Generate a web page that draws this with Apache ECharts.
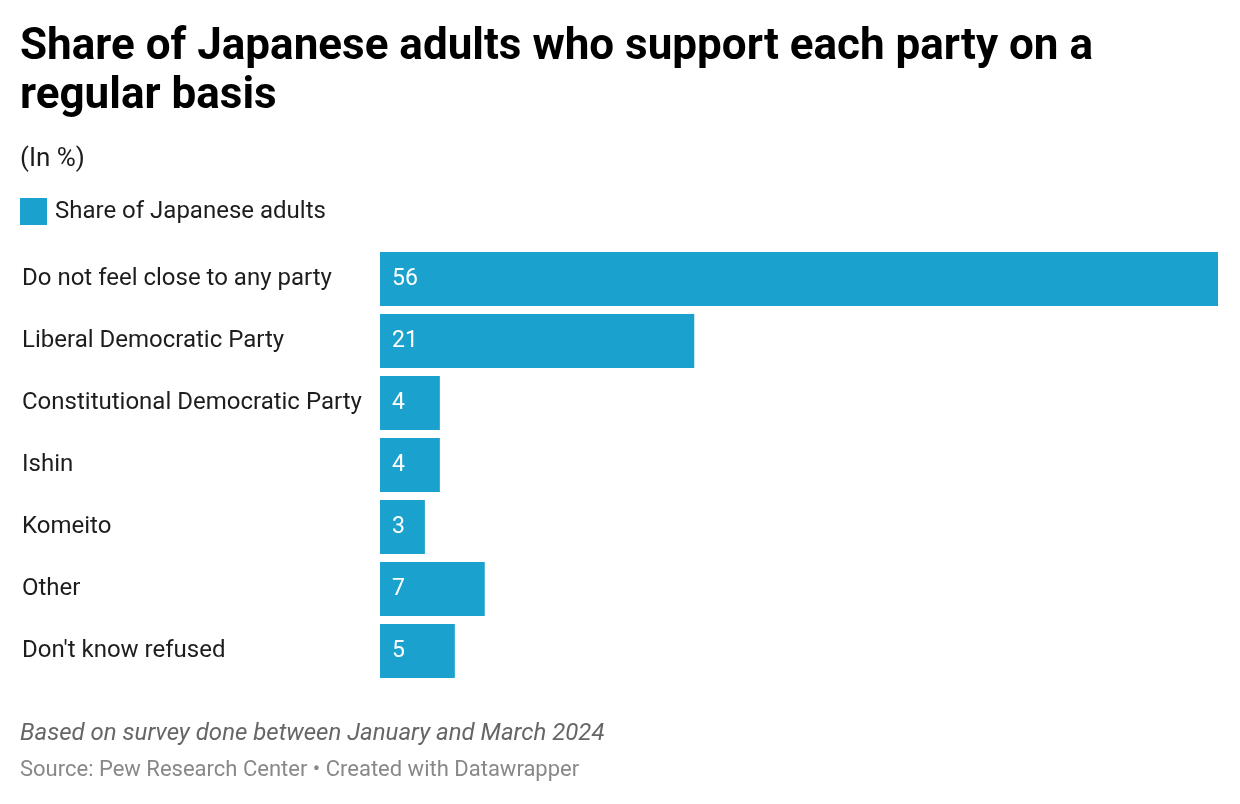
<!DOCTYPE html>
<html>
<head>
<meta charset="utf-8">
<script src="https://cdn.jsdelivr.net/npm/echarts@6/dist/echarts.min.js"></script>
<style>
  html, body { margin: 0; padding: 0; background: #fff; }
  #chart { width: 1240px; height: 804px; }
</style>
</head>
<body>
<div id="chart"></div>
<script>
const categories = [
  "Do not feel close to any party",
  "Liberal Democratic Party",
  "Constitutional Democratic Party",
  "Ishin",
  "Komeito",
  "Other",
  "Don't know refused"
];
const shareValues = [56, 21, 4, 4, 3, 7, 5];
const seriesName = "Share of Japanese adults";

const FONT = "Roboto, 'Noto Sans', sans-serif";
const chart = echarts.init(document.getElementById('chart'), null, { renderer: 'canvas' });

chart.setOption({
  backgroundColor: '#ffffff',
  animation: false,
  textStyle: { fontFamily: FONT },
  title: [
    {
      text: 'Share of Japanese adults who support each party on a\nregular basis',
      left: 20, top: 23, padding: 0,
      textStyle: { fontFamily: FONT, fontSize: 44, fontWeight: 'bold', color: '#000000', lineHeight: 49 }
    },
    {
      text: '(In %)',
      left: 20, top: 144, padding: 0,
      textStyle: { fontFamily: FONT, fontSize: 26, fontWeight: 'normal', color: '#1d1d1d', lineHeight: 30 }
    },
    {
      text: 'Based on survey done between January and March 2024',
      left: 20, top: 720, padding: 0,
      textStyle: { fontFamily: FONT, fontSize: 24, fontWeight: 'normal', fontStyle: 'italic', color: '#666666', lineHeight: 28 }
    },
    {
      text: 'Source: Pew Research Center \u2022 Created with Datawrapper',
      left: 20, top: 757, padding: 0,
      textStyle: { fontFamily: FONT, fontSize: 22, fontWeight: 'normal', color: '#888888', lineHeight: 26 }
    }
  ],
  legend: {
    data: [seriesName],
    left: 20, top: 198,
    padding: 0,
    icon: 'rect',
    itemWidth: 27, itemHeight: 27,
    textStyle: { fontFamily: FONT, fontSize: 24, color: '#1d1d1d', padding: [0, 0, 0, 3] }
  },
  grid: { left: 380, right: 22, top: 248, height: 434, containLabel: false },
  xAxis: {
    type: 'value', min: 0, max: 56, show: false
  },
  yAxis: {
    type: 'category',
    data: categories,
    inverse: true,
    axisLine: { show: false },
    axisTick: { show: false },
    splitLine: { show: false },
    axisLabel: {
      align: 'left',
      margin: 358,
      padding: [5, 0, 0, 0],
      fontFamily: FONT, fontSize: 24, color: '#1d1d1d'
    }
  },
  series: [
    {
      name: seriesName,
      type: 'bar',
      data: shareValues,
      barCategoryGap: '13%',
      itemStyle: { color: '#1aa1cd' },
      label: {
        show: true,
        position: 'insideLeft',
        distance: 12,
        padding: [4, 0, 0, 0],
        color: '#ffffff',
        fontFamily: FONT, fontSize: 23
      }
    }
  ]
});
</script>
</body>
</html>
